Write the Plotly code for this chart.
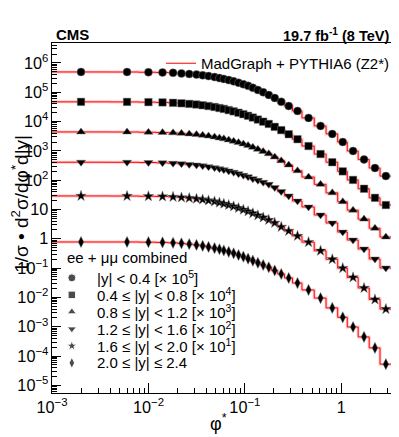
import plotly.graph_objects as go

# ---------------- data ----------------
phistar_edges = [0.0, 0.004, 0.008, 0.012, 0.016, 0.020, 0.024, 0.029, 0.034, 0.039,
                 0.045, 0.052, 0.057, 0.064, 0.072, 0.081, 0.091, 0.102, 0.114, 0.128,
                 0.145, 0.165, 0.189, 0.219, 0.258, 0.312, 0.391, 0.524, 0.695, 0.918,
                 1.153, 1.496, 1.947, 2.522, 3.277]
phistar_centers = [0.002, 0.006, 0.010, 0.014, 0.018, 0.022, 0.0265, 0.0315, 0.0365, 0.042,
                   0.0485, 0.0545, 0.0605, 0.068, 0.0765, 0.086, 0.0965, 0.108, 0.121, 0.1365,
                   0.155, 0.177, 0.204, 0.2385, 0.285, 0.3515, 0.4575, 0.6095, 0.8065, 1.0355,
                   1.3245, 1.7215, 2.2345, 2.8995]

y_00_04 = [4.92, 4.9, 4.82, 4.72, 4.58, 4.4, 4.2, 4.0, 3.78, 3.55, 3.3, 3.05, 2.85, 2.6, 2.35,
           2.1, 1.88, 1.65, 1.42, 1.2, 1.0, 0.81, 0.64, 0.47, 0.34, 0.23, 0.133, 0.071, 0.038,
           0.020, 0.0099, 0.0051, 0.0026, 0.00138]
y_04_08 = [4.7, 4.68, 4.6, 4.5, 4.36, 4.2, 4.0, 3.82, 3.6, 3.38, 3.14, 2.9, 2.7, 2.46, 2.23,
           2.0, 1.78, 1.57, 1.37, 1.17, 0.99, 0.83, 0.66, 0.51, 0.37, 0.25, 0.146, 0.078, 0.041,
           0.020, 0.0102, 0.0051, 0.0025, 0.00142]
y_08_12 = [4.42, 4.4, 4.33, 4.24, 4.12, 3.97, 3.8, 3.62, 3.42, 3.22, 2.99, 2.77, 2.58, 2.36, 2.14,
           1.92, 1.72, 1.52, 1.32, 1.13, 0.96, 0.80, 0.62, 0.46, 0.33, 0.21, 0.128, 0.072, 0.037,
           0.0185, 0.0095, 0.0047, 0.0023, 0.00115]
y_12_16 = [4.1, 4.08, 4.0, 3.9, 3.78, 3.63, 3.46, 3.28, 3.09, 2.89, 2.68, 2.47, 2.28, 2.07, 1.86,
           1.66, 1.47, 1.3, 1.13, 0.99, 0.85, 0.72, 0.56, 0.41, 0.29, 0.195, 0.122, 0.065, 0.0346,
           0.017, 0.0091, 0.0045, 0.00205, 0.00101]
y_16_20 = [2.9, 2.88, 2.83, 2.77, 2.68, 2.57, 2.45, 2.32, 2.18, 2.03, 1.87, 1.71, 1.57, 1.42, 1.27,
           1.12, 0.98, 0.86, 0.74, 0.63, 0.53, 0.44, 0.35, 0.255, 0.185, 0.125, 0.077, 0.039, 0.020,
           0.0100, 0.0048, 0.0021, 0.00085, 0.0004]
y_20_24 = [0.78, 0.78, 0.77, 0.755, 0.73, 0.70, 0.66, 0.62, 0.575, 0.53, 0.48, 0.44, 0.40, 0.36, 0.32,
           0.28, 0.245, 0.21, 0.18, 0.152, 0.128, 0.107, 0.083, 0.063, 0.046, 0.031, 0.018, 0.0095,
           0.0044, 0.0021, 0.00098, 0.00045, 0.00019, 0.000053]

series_values = [y_00_04, y_04_08, y_08_12, y_12_16, y_16_20, y_20_24]
scale_factors = [1e5, 1e4, 1e3, 1e2, 1e1, 1.0]
series_labels = ["|y| < 0.4 [× 10<sup>5</sup>]",
                 "0.4 ≤ |y| < 0.8 [× 10<sup>4</sup>]",
                 "0.8 ≤ |y| < 1.2 [× 10<sup>3</sup>]",
                 "1.2 ≤ |y| < 1.6 [× 10<sup>2</sup>]",
                 "1.6 ≤ |y| < 2.0 [× 10<sup>1</sup>]",
                 "2.0 ≤ |y| ≤ 2.4"]
series_symbols = ["circle", "square", "triangle-up", "triangle-down", "star", "diamond-tall"]
series_sizes = [8, 7.5, 8, 8, 8, 8]

X_RANGE = [-3, 0.5155]
Y_RANGE = [-5.26, 6.68]
FONT = "Liberation Sans, Arial, Helvetica, sans-serif"

fig = go.Figure()

# ---- MC step histograms ----
hx, hy = [], []
for vals, f in zip(series_values, scale_factors):
    xs = [10 ** X_RANGE[0]] + phistar_edges[1:]
    ys = [v * f for v in vals] + [vals[-1] * f]
    hx += xs + [None]
    hy += ys + [None]

fig.add_trace(go.Scatter(x=hx, y=hy, mode="lines", line=dict(color="rgba(255,110,110,0.35)", width=3, shape="hv"),
                         showlegend=False, hoverinfo="skip"))
fig.add_trace(go.Scatter(x=hx, y=hy, mode="lines", line=dict(color="#ff0000", width=1, shape="hv"),
                         name="MadGraph + PYTHIA6 (Z2*)", showlegend=True))

# ---- data points ----
for vals, f, sym, sz, lab in zip(series_values, scale_factors, series_symbols, series_sizes, series_labels):
    fig.add_trace(go.Scatter(x=phistar_centers, y=[v * f for v in vals], mode="markers",
                             marker=dict(symbol=sym, size=sz, color="black",
                                         line=dict(color="rgba(120,120,120,0.6)", width=0.8)),
                             name=lab, showlegend=False))

# ---- legend keys for data (overlay axes in plot-fraction units) ----
key_x = 0.0585
text_x = 0.1257
row0 = 0.329
row_h = 0.0486
key_ys = [row0 - i * row_h for i in range(len(series_labels))]
fig.add_trace(go.Scatter(x=[key_x] * len(key_ys), y=key_ys, xaxis="x2", yaxis="y2", mode="markers",
                         marker=dict(symbol=series_symbols, size=series_sizes, color="black"),
                         showlegend=False, hoverinfo="skip"))

annotations = []
annotations.append(dict(text="ee + μμ combined", x=0.038, y=row0 + row_h * 1.17, xref="paper", yref="paper",
                        xanchor="left", yanchor="middle", showarrow=False, font=dict(size=15, family=FONT, color="black")))
for lab, yy in zip(series_labels, key_ys):
    annotations.append(dict(text=lab, x=text_x, y=yy, xref="paper", yref="paper", xanchor="left", yanchor="middle",
                            showarrow=False, font=dict(size=15, family=FONT, color="black")))
annotations.append(dict(text="<b>CMS</b>", x=0.006, y=1.023, xref="paper", yref="paper", xanchor="left",
                        yanchor="middle", showarrow=False, font=dict(size=15, family=FONT, color="black")))
annotations.append(dict(text="<b>19.7 fb<sup>-1</sup> (8 TeV)</b>", x=1.0, y=1.023, xref="paper", yref="paper",
                        xanchor="right", yanchor="middle", showarrow=False, font=dict(size=14.5, family=FONT, color="black")))
annotations.append(dict(text="1/σ • d<sup>2</sup>σ/dφ<sup>*</sup>d|y|", x=-0.095, y=0.54, xref="paper", yref="paper",
                        xanchor="center", yanchor="middle", textangle=-90, showarrow=False,
                        font=dict(size=19, family=FONT, color="black")))
annotations.append(dict(text="φ<sup>*</sup>", x=0.49, y=-0.083, xref="paper", yref="paper",
                        xanchor="center", yanchor="middle", showarrow=False,
                        font=dict(size=18, family=FONT, color="black")))

axis_common = dict(showgrid=False, zeroline=False, showline=True, linecolor="black", linewidth=1,
                   mirror=True, ticks="inside", tickcolor="black", tickwidth=1,
                   exponentformat="power", tickfont=dict(size=13, family=FONT, color="black"))

# the page body has an 8px margin; size the figure so the plot lands where the reference has it
fig.update_layout(
    width=391, height=429,
    margin=dict(l=44, r=5, t=35, b=44),
    paper_bgcolor="white", plot_bgcolor="white",
    font=dict(family=FONT, color="black"),
    xaxis=dict(type="log", range=X_RANGE, dtick=1, ticklen=10,
               minor=dict(ticks="inside", ticklen=5, dtick="D1", tickcolor="black", showgrid=False),
               **axis_common),
    yaxis=dict(type="log", range=Y_RANGE, dtick=1, ticklen=9,
               minor=dict(ticks="inside", ticklen=5, dtick="D1", tickcolor="black", showgrid=False),
               **axis_common),
    xaxis2=dict(overlaying="x", range=[0, 1], visible=False, fixedrange=True),
    yaxis2=dict(overlaying="y", range=[0, 1], visible=False, fixedrange=True),
    legend=dict(x=0.3216, y=0.9886, xanchor="left", yanchor="top", bgcolor="rgba(0,0,0,0)",
                font=dict(size=15, family=FONT, color="black"), borderwidth=0),
    annotations=annotations,
    showlegend=True,
)

fig.write_html("out.html")
